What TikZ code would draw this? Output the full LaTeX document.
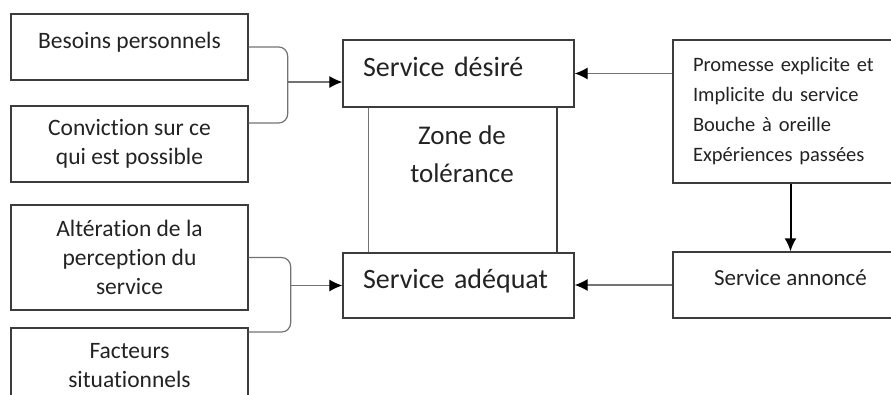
\documentclass[tikz,border=0pt]{standalone}
\usepackage{fontspec}
\setmainfont{Carlito}[Ligatures=NoCommon]
\usepackage{tikz}
\usetikzlibrary{arrows.meta}
\definecolor{bord}{RGB}{60,60,60}
\definecolor{trait}{RGB}{115,115,115}
\definecolor{texte}{RGB}{35,35,35}

\begin{document}
\begin{tikzpicture}[x=1pt,y=1pt,yscale=-1,xscale=1,
  boite/.style={draw=bord,line width=1.3pt,fill=white,inner sep=0pt,align=center,text=texte},
  gauche/.style={boite,minimum width=237pt,font=\fontsize{23.5}{29}\selectfont},
  service/.style={boite,minimum width=231pt,text width=191pt,align=left,font=\fontsize{28}{34}\selectfont},
  droite/.style={boite,minimum width=235pt,font=\fontsize{20.5}{30}\selectfont},
  haut/.style={text depth=14pt},
  lien/.style={draw=trait,line width=1.2pt},
  fleche/.style={lien,-{Latex[length=13pt,width=12pt,color=black]}},
  accolade/.style={lien,rounded corners=9pt}]
\path [use as bounding box,clip] (0,0) rectangle (891,394);

% boites de gauche
\draw (129.5,47) node [gauche,minimum height=66pt,haut] (besoins) {Besoins personnels};
\draw (129.5,144) node [gauche,minimum height=76pt] (conviction) {Conviction sur ce\\qui est possible};
\draw (129.5,257.5) node [gauche,minimum height=105pt] (alteration) {Altération de la\\perception du\\service};
\draw (129.5,366) node [gauche,minimum height=76pt] (facteurs) {Facteurs\\situationnels};

% boites du centre
\draw (458.5,73.5) node [service,minimum height=67pt,haut] (desire) {Service désiré};
\draw (458.5,285.5) node [service,minimum height=65pt,haut] (adequat) {Service adéquat};
\draw (462,154) node [font=\fontsize{27}{38}\selectfont,align=center,text=texte] (zone) {Zone de\\tolérance};
\coordinate (zg) at (368,0);
\coordinate (zd) at (557,0);
\draw [lien,line width=1pt] (zg |- desire.south) -- (zg |- adequat.north);
\draw [draw=bord,line width=1.3pt] (zd |- desire.south) -- (zd |- adequat.north);

% boites de droite
\draw (790.5,111.5) node [droite,minimum height=143pt,text width=195pt,align=left] (promesse) {Promesse explicite et\\Implicite du service\\Bouche à oreille\\Expériences passées};
\draw (790.5,285) node [droite,minimum height=66pt,haut,font=\fontsize{23}{29}\selectfont] (annonce) {Service annoncé};

% accolades et fleches
\draw [accolade] (besoins.east) -- ++(39,0) -- ++(0,76) -- ++(-39,0);
\coordinate (acc1) at (287,82);
\draw [fleche] (acc1) -- (acc1 -| desire.west);
\draw [accolade] (alteration.east) -- ++(42,0) -- ++(0,74.5) -- ++(-42,0);
\coordinate (acc2) at (290,285.5);
\draw [fleche] (acc2) -- (acc2 -| adequat.west);
\draw [fleche] (desire.east -| promesse.west) -- (desire.east);
\draw [fleche] (annonce.west) -- (annonce.west -| adequat.east);
\draw [fleche,draw=black,line width=2pt] (promesse.south) -- (annonce.north);
\end{tikzpicture}
\end{document}
